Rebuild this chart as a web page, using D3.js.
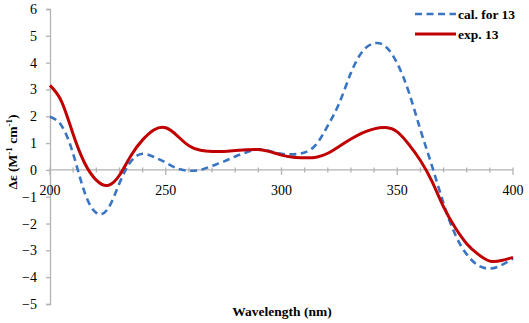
<!DOCTYPE html>
<html>
<head>
<meta charset="utf-8">
<script src="https://cdn.jsdelivr.net/npm/d3@7"></script>
<style>
  body { margin: 0; background: #fff; }
  svg { display: block; }
</style>
</head>
<body>
<svg id="chart"></svg>
<script>
// wavelength grid (nm)
const wavelengths = d3.range(200, 401, 5);

// calculated ECD for 13
const calValues = [
  1.98, 1.65, 0.6, -0.85, -1.6, -1.45, -0.5, 0.32, 0.6, 0.48,
  0.27, 0.05, -0.03, 0.0, 0.15, 0.31, 0.5, 0.66, 0.77, 0.7,
  0.6, 0.58, 0.65, 0.95, 1.65, 2.5, 3.62, 4.42, 4.72, 4.6,
  3.97, 2.9, 1.5, 0.15, -1.25, -2.4, -3.15, -3.56, -3.68, -3.55,
  -3.3
];

// experimental ECD of 13
const expValues = [
  3.15, 2.55, 1.33, 0.25, -0.38, -0.58, -0.2, 0.54, 1.12, 1.5,
  1.57, 1.27, 0.9, 0.73, 0.69, 0.69, 0.72, 0.75, 0.76, 0.68,
  0.55, 0.47, 0.45, 0.47, 0.62, 0.88, 1.15, 1.38, 1.53, 1.58,
  1.42, 0.95, 0.35, -0.43, -1.38, -2.15, -2.75, -3.15, -3.4, -3.38,
  -3.26
];

const xTicks = [200, 250, 300, 350, 400];
const yTicks = d3.range(-5, 7, 1);

const series = [
  { name: 'cal. for 13', values: calValues, color: '#3a75c4', width: 2.6, dash: '7,4.5' },
  { name: 'exp. 13', values: expValues, color: '#c00000', width: 3, dash: null }
];

const width = 529, height = 323;
const axisColor = '#b3b3b3';
const serif = "'Liberation Serif', 'Times New Roman', serif";

const svg = d3.select('#chart').attr('width', width).attr('height', height);

const x = d3.scaleLinear().domain([200, 400]).range([50, 513]);
const y = d3.scaleLinear().domain([-5, 6]).range([304, 9]);

// y axis
const yAxis = svg.append('g')
  .attr('transform', `translate(${x(200)},0)`)
  .call(d3.axisLeft(y).tickValues(yTicks).tickSize(4).tickPadding(9).tickFormat(d3.format('d')));
yAxis.attr('font-family', serif).attr('font-size', 14);
yAxis.select('.domain').attr('stroke', axisColor).attr('stroke-width', 1.3);
yAxis.selectAll('.tick line').attr('stroke', axisColor).attr('stroke-width', 1.3);
yAxis.selectAll('.tick text').attr('fill', '#000');

// x axis at zero, minor ticks every 10 nm
const xg = svg.append('g')
  .attr('transform', `translate(0,${y(0)})`)
  .attr('font-family', serif)
  .attr('font-size', 14);
xg.append('line')
  .attr('x1', x(200)).attr('x2', x(400))
  .attr('stroke', axisColor).attr('stroke-width', 1.3);
xg.selectAll('line.minor')
  .data(d3.range(200, 401, 10))
  .join('line')
  .attr('class', 'minor')
  .attr('x1', d => x(d)).attr('x2', d => x(d))
  .attr('y1', -2.5)
  .attr('y2', d => (d % 50 === 0 ? 5 : 2.5))
  .attr('stroke', axisColor).attr('stroke-width', 1.3);
xg.selectAll('text')
  .data(xTicks)
  .join('text')
  .attr('x', d => x(d))
  .attr('y', 25)
  .attr('text-anchor', 'middle')
  .text(d => d);

// curves
const line = d3.line()
  .x((d, i) => x(wavelengths[i]))
  .y(d => y(d))
  .curve(d3.curveNatural);

series.forEach(s => {
  svg.append('path')
    .datum(s.values)
    .attr('d', line)
    .attr('fill', 'none')
    .attr('stroke', s.color)
    .attr('stroke-width', s.width)
    .attr('stroke-dasharray', s.dash)
    .attr('stroke-linejoin', 'round');
});

// legend
const legend = svg.append('g')
  .attr('font-family', serif)
  .attr('font-size', 13.5)
  .attr('font-weight', 'bold');
series.forEach((s, i) => {
  const ly = 14 + i * 20;
  legend.append('line')
    .attr('x1', 415).attr('x2', 456)
    .attr('y1', ly).attr('y2', ly)
    .attr('stroke', s.color)
    .attr('stroke-width', s.width)
    .attr('stroke-dasharray', s.dash);
  legend.append('text')
    .attr('x', 458).attr('y', ly + 4.5)
    .text(s.name);
});

// axis titles
const titles = svg.append('g')
  .attr('font-family', serif)
  .attr('font-size', 13.5)
  .attr('font-weight', 'bold');

titles.append('text')
  .attr('x', 282).attr('y', 316)
  .attr('text-anchor', 'middle')
  .text('Wavelength (nm)');

const yTitle = titles.append('text')
  .attr('transform', 'translate(17,152) rotate(-90)')
  .attr('text-anchor', 'middle');
yTitle.append('tspan').text('Δε (M');
yTitle.append('tspan').attr('font-size', 9).attr('dy', -5).text('-1');
yTitle.append('tspan').attr('dy', 5).text(' cm');
yTitle.append('tspan').attr('font-size', 9).attr('dy', -5).text('-1');
yTitle.append('tspan').attr('dy', 5).text(')');
</script>
</body>
</html>
